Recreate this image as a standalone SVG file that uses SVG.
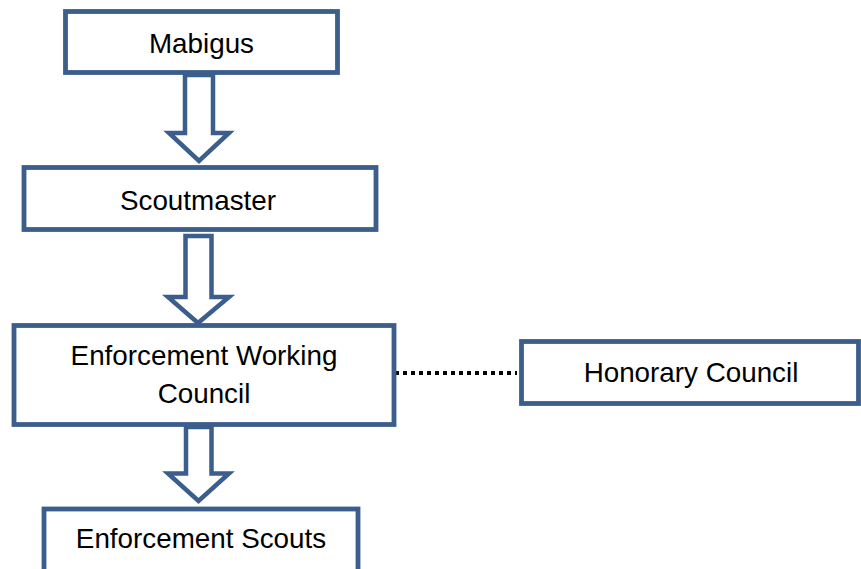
<svg xmlns="http://www.w3.org/2000/svg" width="861" height="569" viewBox="0 0 861 569">
<style>
.box{fill:#fff;stroke:#3B5E8C;stroke-width:4.8}
.arr{fill:#fff;stroke:#3B5E8C;stroke-width:4.5;stroke-linejoin:miter}
.t{font-family:"Liberation Sans",Arial,sans-serif;font-size:27.8px;fill:#000;text-anchor:middle}
.dot{stroke:#000;stroke-width:4;stroke-dasharray:4 4;fill:none}
</style>
<rect width="861" height="569" fill="#fff"/>
<g id="connectors">
<polygon class="arr" points="185,75 213,75 213,133 229,133 199,161 169,133 185,133"/>
<polygon class="arr" points="185.5,236 211.5,236 211.5,297 229,297 198,323 168,297 185.5,297"/>
<polygon class="arr" points="186,427 211.5,427 211.5,473.5 229,473.5 198.5,501 168,473.5 186,473.5"/>
<line class="dot" x1="395" y1="373" x2="517" y2="373"/>
</g>
<g id="mabigus">
<rect class="box" x="65.5" y="11.5" width="272" height="61"/>
<text class="t" x="201.5" y="53">Mabigus</text>
</g>
<g id="scoutmaster">
<rect class="box" x="24" y="167.5" width="352" height="62"/>
<text class="t" x="198" y="210">Scoutmaster</text>
</g>
<g id="ewc">
<rect class="box" x="14" y="325.5" width="380" height="99"/>
<text class="t" x="204" y="365">Enforcement Working</text>
<text class="t" x="204" y="403">Council</text>
</g>
<g id="honorary">
<rect class="box" x="521.5" y="341.5" width="337" height="62"/>
<text class="t" x="691" y="382">Honorary Council</text>
</g>
<g id="scouts">
<rect class="box" x="44" y="509" width="314" height="75"/>
<text class="t" x="201" y="548">Enforcement Scouts</text>
</g>
</svg>
